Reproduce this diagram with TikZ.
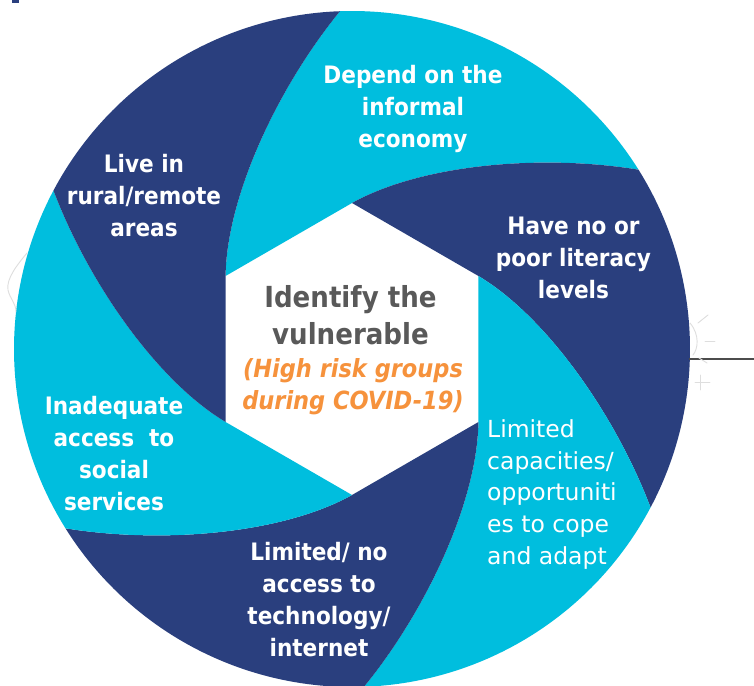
\documentclass[tikz,border=0pt]{standalone}
\usepackage{fontspec}
\setmainfont{DejaVu Sans Condensed}
\newfontfamily\widesans{DejaVu Sans}
\definecolor{navy}{RGB}{42,63,126}
\definecolor{cyanpetal}{RGB}{0,190,222}
\definecolor{titlegrey}{RGB}{89,89,89}
\definecolor{riskorange}{RGB}{246,146,60}
\definecolor{faint}{RGB}{222,222,222}
\begin{document}
\begin{tikzpicture}[x=1pt,y=1pt,
  petal/.style={text=white, font=\bfseries\fontsize{24}{32}\selectfont, align=center, inner sep=0pt},
  petalplain/.style={text=white, font=\widesans\fontsize{23.5}{31.7}\selectfont, align=left, inner sep=0pt},
  titletext/.style={text=titlegrey, font=\bfseries\fontsize{29}{37}\selectfont, align=center, inner sep=0pt},
  risktext/.style={text=riskorange, font=\bfseries\itshape\fontsize{25}{32}\selectfont, align=center, inner sep=0pt},
  faintline/.style={draw=faint, line width=0.9pt, line cap=round}]
\useasboundingbox (-352,-336) rectangle (402,349);
\fill[white] (-352,-336) rectangle (402,349);
\begin{scope}
\clip (-352,-336) rectangle (402,349);
% six shutter blades around the central hexagon (radius 146) inside a disc of radius 338
\foreach \k/\col in {0/cyanpetal,1/navy,2/cyanpetal,3/navy,4/cyanpetal,5/navy}{
  \begin{scope}[rotate=-60*\k]
    \fill[\col] (150:146) -- (90:146)
      .. controls (70,185) and (190,195) .. (32.04:338)
      arc[start angle=32.04, end angle=92.04, radius=338pt]
      .. controls (105.74:272.3) and (129.27:197.8) .. (150:146) -- cycle;
  \end{scope}
}
\end{scope}

% blade labels
\node[petal] (depend) at (61,240.5) {Depend on the\\informal\\economy};
\node[petal] (rural) at (-208,153.5) {Live in\\rural/remote\\areas};
\node[petal] (literacy) at (221.5,91.5) {Have no or\\poor literacy\\levels};
\node[petal] (social) at (-238,-105) {Inadequate\\access~~to\\social\\services};
\node[petalplain, anchor=west] (cope) at (135,-145.5) {Limited\\capacities/\\opportuniti\\es to cope\\and adapt};
\node[petal] (tech) at (-33,-250.5) {Limited/ no\\access to\\technology/\\internet};

% centre text
\node[titletext] (title) at (-1.5,33.5) {Identify the\\vulnerable};
\node[risktext] (risk) at (1,-37.5) {(High risk groups\\during COVID-19)};

% small marks at the edges
\fill[navy] (-340,346) rectangle (-333,349);
\draw[gray!60!black, line width=1.2pt] (337,-10) -- (402,-10);
\draw[faintline] (338,26) .. controls (348,14) and (346,0) .. (341,-6);
\draw[faintline] (346,26) -- (356,34);
\draw[faintline] (353,8) -- (363,8);
\draw[faintline] (347,-9) -- (355,-14);
\draw[faintline] (343,-33) -- (358,-33);
\draw[faintline] (348,-26) -- (348,-41);
\draw[faintline] (-325,96) .. controls (-335,84) and (-346,70) .. (-344,59)
  .. controls (-342,50) and (-336,46) .. (-336,37);
\end{tikzpicture}
\end{document}
